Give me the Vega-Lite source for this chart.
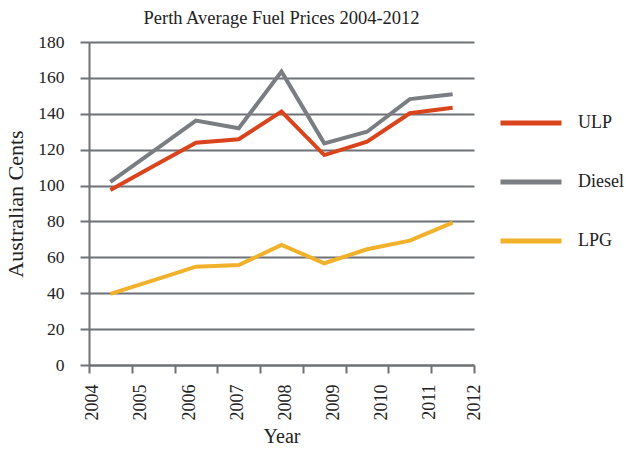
{
  "$schema": "https://vega.github.io/schema/vega-lite/v6.json",
  "width": 385,
  "height": 323,
  "autosize": "none",
  "padding": {"left": 89, "top": 42, "right": 152, "bottom": 86},
  "background": "white",
  "config": {
    "view": {"stroke": null},
    "font": "Liberation Serif"
  },
  "title": {
    "text": "Perth Average Fuel Prices 2004-2012",
    "font": "Liberation Serif",
    "fontSize": 18.5,
    "fontWeight": "normal",
    "color": "#222222",
    "anchor": "middle",
    "frame": "group",
    "offset": 6
  },
  "data": {
    "values": [
      {"year": 2004, "fuel": "ULP", "price": 97.5},
      {"year": 2005, "fuel": "ULP", "price": 110.7},
      {"year": 2006, "fuel": "ULP", "price": 123.9},
      {"year": 2007, "fuel": "ULP", "price": 125.8},
      {"year": 2008, "fuel": "ULP", "price": 141.2},
      {"year": 2009, "fuel": "ULP", "price": 117.0},
      {"year": 2010, "fuel": "ULP", "price": 124.5},
      {"year": 2011, "fuel": "ULP", "price": 140.3},
      {"year": 2012, "fuel": "ULP", "price": 143.4},
      {"year": 2004, "fuel": "Diesel", "price": 102.0},
      {"year": 2005, "fuel": "Diesel", "price": 119.0},
      {"year": 2006, "fuel": "Diesel", "price": 136.2},
      {"year": 2007, "fuel": "Diesel", "price": 131.9},
      {"year": 2008, "fuel": "Diesel", "price": 163.5},
      {"year": 2009, "fuel": "Diesel", "price": 123.5},
      {"year": 2010, "fuel": "Diesel", "price": 130.0},
      {"year": 2011, "fuel": "Diesel", "price": 148.2},
      {"year": 2012, "fuel": "Diesel", "price": 150.9},
      {"year": 2004, "fuel": "LPG", "price": 39.6},
      {"year": 2005, "fuel": "LPG", "price": 47.2},
      {"year": 2006, "fuel": "LPG", "price": 54.8},
      {"year": 2007, "fuel": "LPG", "price": 55.7},
      {"year": 2008, "fuel": "LPG", "price": 66.9},
      {"year": 2009, "fuel": "LPG", "price": 56.7},
      {"year": 2010, "fuel": "LPG", "price": 64.5},
      {"year": 2011, "fuel": "LPG", "price": 69.3},
      {"year": 2012, "fuel": "LPG", "price": 79.3}
    ]
  },
  "encoding": {
    "y": {
      "field": "price",
      "type": "quantitative",
      "scale": {"domain": [0, 180], "nice": false},
      "axis": {
        "values": [0, 20, 40, 60, 80, 100, 120, 140, 160, 180],
        "title": "Australian Cents",
        "titleFont": "Liberation Serif",
        "titleFontSize": 22,
        "titleFontWeight": "normal",
        "titleColor": "#222222",
        "titlePadding": 10,
        "labelFont": "Liberation Serif",
        "labelFontSize": 17.5,
        "labelColor": "#222222",
        "labelPadding": 16,
        "labelOverlap": false,
        "grid": true,
        "gridColor": "#6e7176",
        "gridWidth": 2,
        "domain": true,
        "domainColor": "#6e7176",
        "domainWidth": 2,
        "ticks": true,
        "tickColor": "#6e7176",
        "tickWidth": 2,
        "tickSize": 9
      }
    }
  },
  "layer": [
    {
      "mark": {"type": "point", "opacity": 0},
      "encoding": {
        "x": {
          "field": "year",
          "type": "quantitative",
          "scale": {"domain": [2003.5, 2012.5], "nice": false, "zero": false},
          "axis": {
            "orient": "bottom",
            "values": [2003.59, 2004.715, 2005.84, 2006.965, 2008.09, 2009.215, 2010.34, 2011.465, 2012.5],
            "labelExpr": "'' + (round((datum.value - 2003.59) / 1.125) + 2004)",
            "labelAngle": 270,
            "labelFont": "Liberation Serif",
            "labelFontSize": 18,
            "labelColor": "#222222",
            "labelPadding": 19,
            "labelFlush": false,
            "labelOverlap": false,
            "labelBound": false,
            "domain": false,
            "ticks": false,
            "grid": false,
            "title": "Year",
            "titleFont": "Liberation Serif",
            "titleFontSize": 20,
            "titleFontWeight": "normal",
            "titleColor": "#222222",
            "titlePadding": 6
          }
        }
      }
    },
    {
      "mark": {"type": "line", "strokeWidth": 4, "strokeJoin": "miter", "strokeCap": "butt"},
      "encoding": {
        "x": {
          "field": "year",
          "type": "quantitative",
          "scale": {"domain": [2003.5, 2012.5], "nice": false, "zero": false},
          "axis": {
            "orient": "bottom",
            "values": [2003.5, 2004.5, 2005.5, 2006.5, 2007.5, 2008.5, 2009.5, 2010.5, 2011.5, 2012.5],
            "labels": false,
            "grid": false,
            "title": null,
            "domain": true,
            "domainColor": "#6e7176",
            "domainWidth": 2,
            "ticks": true,
            "tickColor": "#6e7176",
            "tickWidth": 2,
            "tickSize": 8
          }
        },
        "color": {
          "field": "fuel",
          "type": "nominal",
          "scale": {
            "domain": ["ULP", "Diesel", "LPG"],
            "range": ["#d9441c", "#7a7d82", "#f2b12a"]
          },
          "legend": {
            "title": null,
            "orient": "none",
            "legendX": 409,
            "legendY": 48,
            "padding": 0,
            "symbolType": "stroke",
            "symbolSize": 3721,
            "symbolStrokeWidth": 5,
            "labelFont": "Liberation Serif",
            "labelFontSize": 18,
            "labelColor": "#222222",
            "labelOffset": 14,
            "rowPadding": 16
          }
        }
      }
    }
  ],
  "resolve": {"scale": {"x": "independent"}, "axis": {"x": "independent"}}
}
